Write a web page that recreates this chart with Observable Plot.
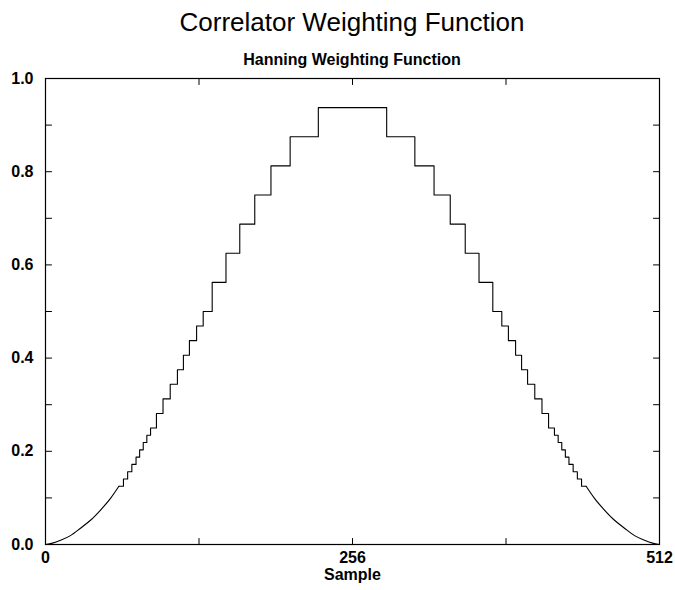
<!DOCTYPE html>
<html>
<head>
<meta charset="utf-8">
<script src="https://cdn.jsdelivr.net/npm/d3@7"></script>
<script src="https://cdn.jsdelivr.net/npm/@observablehq/plot@0.6"></script>
<style>
  html, body { margin: 0; padding: 0; background: #fff; }
  #wrap { position: relative; width: 675px; height: 590px; font-family: "Liberation Sans", Arial, Helvetica, sans-serif; color: #000; }
  #title { position: absolute; left: 0; width: 704px; top: 7px; line-height: 30px; font-size: 26px; text-align: center; }
  #subtitle { position: absolute; left: 0; width: 704px; top: 50px; line-height: 20px; font-size: 16px; font-weight: bold; text-align: center; }
  #chart { position: absolute; left: 0; top: 70px; }
</style>
</head>
<body>
<div id="wrap">
  <div id="title">Correlator Weighting Function</div>
  <div id="subtitle">Hanning Weighting Function</div>
  <div id="chart"></div>
</div>
<script>
// Smooth low part (left)
const smoothLeftSample = [0, 5.8, 12.5, 20.8, 29.2, 37.5, 45.9, 54.2, 61.2];
const smoothLeftValue  = [0, 0.003, 0.009, 0.019, 0.035, 0.052, 0.074, 0.099, 0.125];

// Staircase part: sample where each level starts, and the level
const stepSample = [61.2, 65, 68.5, 72, 75.5, 78.5, 81.5, 84.5, 87.6, 92.5, 98, 104, 110, 115, 120, 126, 131.5,
  139, 150.5, 162, 174.5, 188, 204, 227.5,
  284.5, 308, 324, 337.5, 350, 361.5, 373, 380.5, 386, 392, 397, 402, 408, 414, 419.5,
  424.4, 427.5, 430.5, 433.5, 436.5, 440, 443.5, 447, 450.8];
const stepValue = [0.125, 0.140625, 0.15625, 0.171875, 0.1875, 0.203125, 0.21875, 0.234375, 0.25, 0.28125, 0.3125, 0.34375, 0.375, 0.40625, 0.4375, 0.46875, 0.5,
  0.5625, 0.625, 0.6875, 0.75, 0.8125, 0.875, 0.9375,
  0.875, 0.8125, 0.75, 0.6875, 0.625, 0.5625, 0.5, 0.46875, 0.4375, 0.40625, 0.375, 0.34375, 0.3125, 0.28125, 0.25,
  0.234375, 0.21875, 0.203125, 0.1875, 0.171875, 0.15625, 0.140625, 0.125, 0.125];

// Smooth low part (right)
const smoothRightSample = [450.8, 457.8, 466.1, 474.5, 482.8, 491.2, 499.5, 506.2, 512];
const smoothRightValue  = [0.125, 0.099, 0.074, 0.052, 0.035, 0.019, 0.009, 0.003, 0];

// Axes
const xTickLabels = [0, 256, 512];
const xTickMarks = [128, 256, 384];
const yTickLabels = [0, 0.2, 0.4, 0.6, 0.8, 1.0];
const yTickMarks = [0.1, 0.2, 0.3, 0.4, 0.5, 0.6, 0.7, 0.8, 0.9];
const xLabel = "Sample";

const zip = (xs, ys) => xs.map((x, i) => ({x, y: ys[i]}));
const smoothLeft = zip(smoothLeftSample, smoothLeftValue);
const steps = zip(stepSample, stepValue);
const smoothRight = zip(smoothRightSample, smoothRightValue);

const tickShape = { draw(context, l) { context.moveTo(0, 0); context.lineTo(0, -l); } };
const TL = 6;

const chart = Plot.plot({
  width: 675,
  height: 520,
  marginTop: 8,
  marginBottom: 46,
  marginLeft: 45,
  marginRight: 16,
  style: { fontFamily: "'Liberation Sans', Arial, Helvetica, sans-serif", fontSize: "16px", fontWeight: "bold", color: "#000", background: "#fff" },
  x: { domain: [0, 512] },
  y: { domain: [0, 1] },
  marks: [
    Plot.axisX({ ticks: xTickLabels, tickSize: 0, tickPadding: 7, tickFormat: d => String(d), label: null, fontSize: 16, fontWeight: "bold" }),
    Plot.axisY({ ticks: yTickLabels, tickSize: 0, tickPadding: 12, tickFormat: d3.format(".1f"), label: null, fontSize: 16, fontWeight: "bold" }),
    Plot.vector(xTickMarks, { x: d => d, frameAnchor: "bottom", length: TL, rotate: 0, anchor: "start", shape: tickShape, strokeWidth: 1 }),
    Plot.vector(xTickMarks, { x: d => d, frameAnchor: "top", length: TL, rotate: 180, anchor: "start", shape: tickShape, strokeWidth: 1 }),
    Plot.vector(yTickMarks, { y: d => d, frameAnchor: "left", length: TL, rotate: 90, anchor: "start", shape: tickShape, strokeWidth: 1 }),
    Plot.vector(yTickMarks, { y: d => d, frameAnchor: "right", length: TL, rotate: 270, anchor: "start", shape: tickShape, strokeWidth: 1 }),
    Plot.frame({ stroke: "#000", strokeWidth: 1.2 }),
    Plot.line(smoothLeft, { x: "x", y: "y", curve: "monotone-x", stroke: "#000", strokeWidth: 1.1 }),
    Plot.line(steps, { x: "x", y: "y", curve: "step-after", stroke: "#000", strokeWidth: 1.1 }),
    Plot.line(smoothRight, { x: "x", y: "y", curve: "monotone-x", stroke: "#000", strokeWidth: 1.1 }),
    Plot.text([xLabel], { frameAnchor: "bottom", dy: 35, text: d => d, fontSize: 16, fontWeight: "bold", fill: "#000" })
  ]
});
document.getElementById("chart").appendChild(chart);
</script>
</body>
</html>
